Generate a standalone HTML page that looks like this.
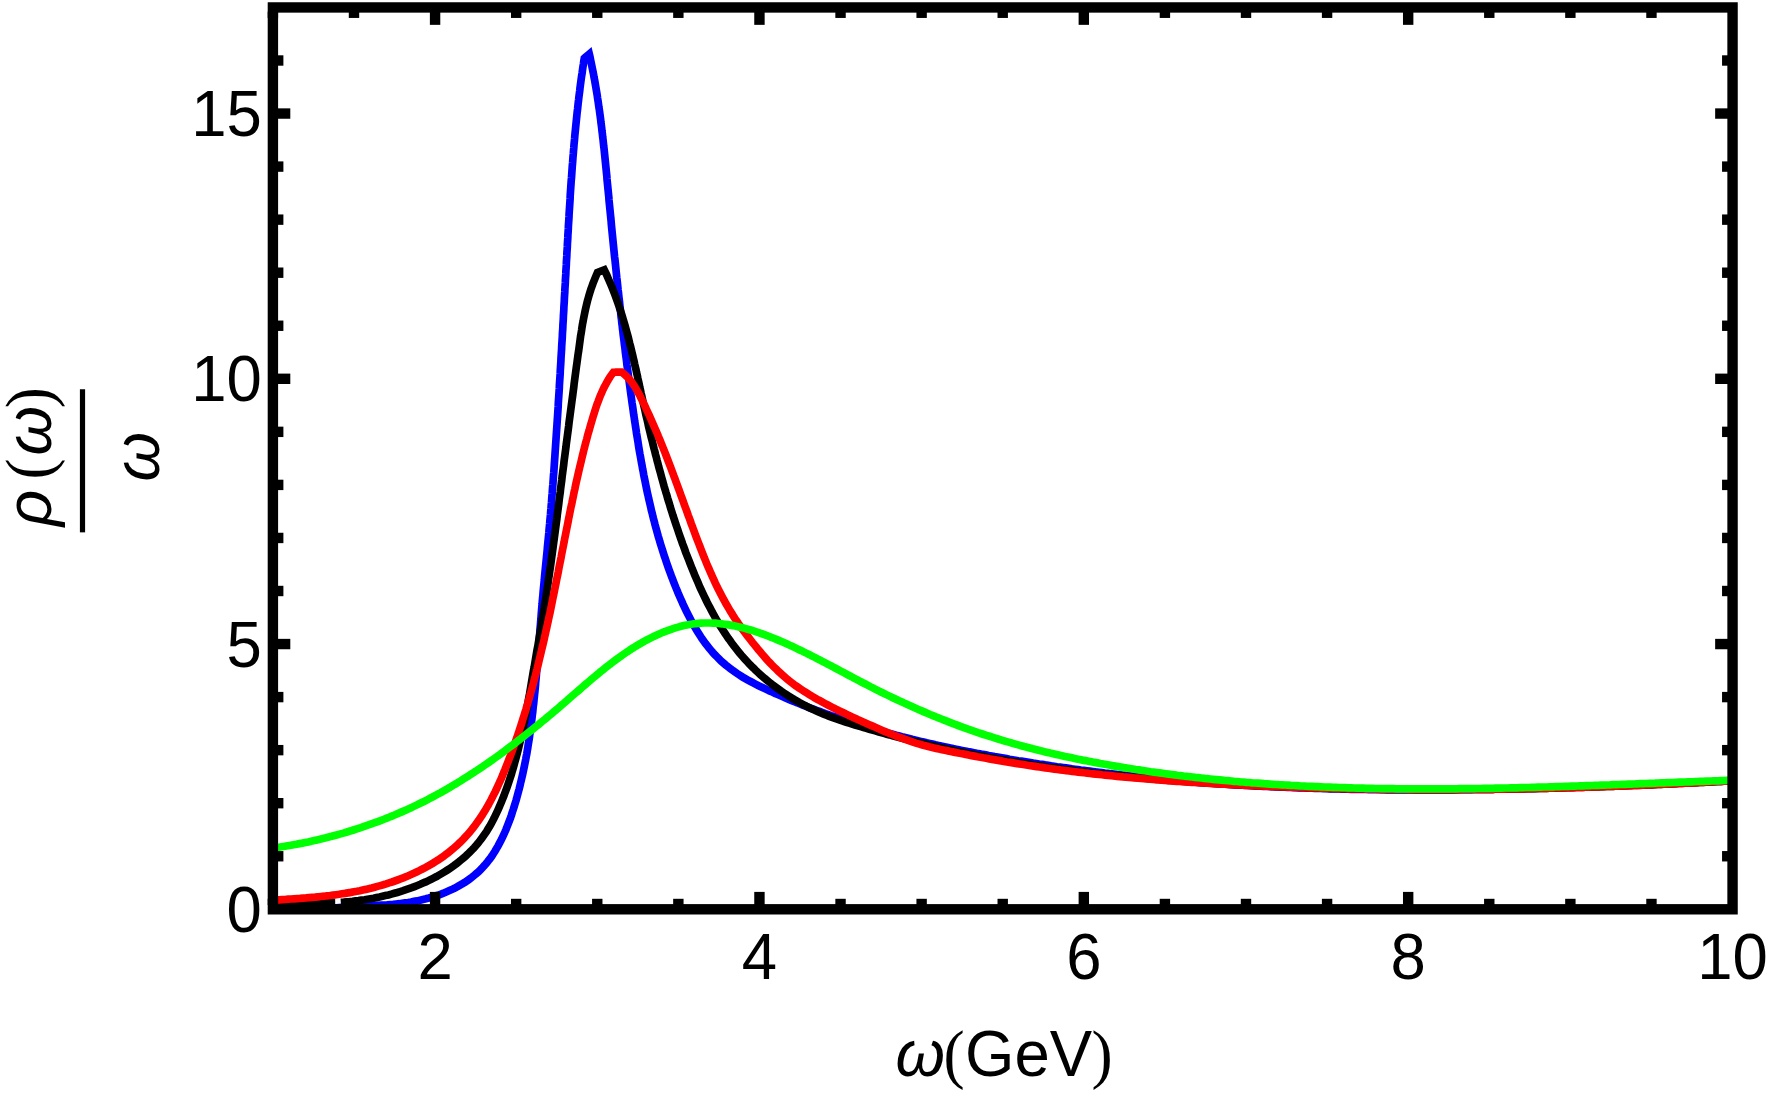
<!DOCTYPE html>
<html><head><meta charset="utf-8"><title>Spectral function plot</title>
<style>
html,body{margin:0;padding:0;background:#fff;}
body{width:1772px;height:1097px;overflow:hidden;}
svg{display:block;}
text{font-family:"Liberation Sans",Arial,sans-serif;}
.it{font-family:"Liberation Serif","Times New Roman",serif;font-style:italic;}
</style></head><body>
<svg width="1772" height="1097" viewBox="0 0 1772 1097">
<rect width="1772" height="1097" fill="#fff"/>

<g fill="none" stroke-width="7.70" stroke-linejoin="miter" stroke-miterlimit="3" stroke-linecap="butt">
<path stroke="#0000ff" d="M273.0,909.5L276.0,909.6 279.1,909.6 282.1,909.6 285.1,909.7 288.2,909.6 291.2,909.6 294.2,909.6 297.2,909.5 300.2,909.4 303.2,909.4 306.2,909.3 309.2,909.1 312.2,909.0 315.2,908.9 318.2,908.8 321.2,908.6 324.2,908.4 327.2,908.3 330.1,908.1 333.1,908.0 336.1,907.8 339.1,907.6 342.1,907.4 345.1,907.2 348.1,907.1 351.0,906.9 354.0,906.7 357.0,906.5 360.0,906.4 363.0,906.2 366.0,906.1 369.0,905.9 372.0,905.7 375.1,905.6 378.1,905.4 381.1,905.2 384.1,905.0 387.1,904.8 390.1,904.5 393.1,904.3 396.1,904.0 399.1,903.7 402.1,903.3 405.1,902.9 408.1,902.5 411.1,902.0 414.1,901.4 417.1,900.9 420.1,900.2 423.0,899.5 426.0,898.8 428.9,898.0 431.9,897.1 434.8,896.2 437.7,895.3 440.5,894.3 443.4,893.2 446.2,892.0 448.9,890.8 451.7,889.6 454.4,888.3 457.0,886.9 459.6,885.4 462.2,883.9 464.7,882.4 467.2,880.7 469.6,879.0 471.9,877.3 474.2,875.4 476.4,873.5 478.6,871.6 480.7,869.5 482.7,867.4 484.7,865.2 486.6,863.0 488.4,860.7 490.2,858.4 491.9,856.0 493.5,853.5 495.1,851.0 496.6,848.4 498.1,845.8 499.5,843.2 500.9,840.5 502.2,837.8 503.5,835.1 504.8,832.3 506.0,829.5 507.1,826.7 508.2,823.8 509.3,821.0 510.4,818.1 511.4,815.2 512.3,812.3 513.3,809.4 514.2,806.5 515.1,803.5 516.0,800.6 516.8,797.7 517.6,794.8 518.4,791.8 519.2,788.9 519.9,786.0 520.6,783.0 521.3,780.1 522.0,777.2 522.7,774.2 523.3,771.3 523.9,768.4 524.5,765.4 525.1,762.5 525.7,759.5 526.2,756.6 526.8,753.7 527.3,750.7 527.8,747.7 528.2,744.8 528.7,741.8 529.2,738.9 529.6,735.9 530.0,733.0 530.4,730.0 530.8,727.0 531.2,724.1 531.6,721.1 532.0,718.1 532.3,715.1 532.7,712.2 533.0,709.2 533.3,706.2 533.7,703.2 534.0,700.2 534.3,697.2 534.6,694.2 534.9,691.3 535.2,688.3 535.5,685.3 535.7,682.3 536.0,679.3 536.3,676.3 536.5,673.3 536.8,670.3 537.0,667.3 537.3,664.3 537.5,661.3 537.8,658.3 538.0,655.3 538.3,652.2 538.5,649.2 538.7,646.2 539.0,643.2 539.2,640.2 539.4,637.2 539.7,634.2 539.9,631.2 540.1,628.2 540.4,625.2 540.6,622.2 540.9,619.2 541.1,616.2 541.3,613.2 541.6,610.2 541.8,607.2 542.1,604.2 542.3,601.2 542.6,598.2 542.9,595.2 543.1,592.2 543.4,589.2 543.7,586.2 544.0,583.2 544.3,580.2 544.5,577.2 544.8,574.2 545.1,571.2 545.4,568.2 545.7,565.2 546.0,562.2 546.3,559.2 546.6,556.2 546.9,553.2 547.2,550.2 547.4,547.3 547.7,544.3 548.0,541.3 548.3,538.3 548.6,535.3 548.9,532.3 549.1,529.3 549.4,526.3 549.7,523.3 549.9,520.3 550.2,517.3 550.5,514.3 550.7,511.3 551.0,508.3 551.2,505.3 551.5,502.3 551.7,499.3 551.9,496.3 552.2,493.3 552.4,490.3 552.6,487.3 552.9,484.3 553.1,481.3 553.3,478.3 553.5,475.3 553.8,472.3 554.0,469.3 554.2,466.3 554.4,463.3 554.6,460.3 554.8,457.3 555.0,454.3 555.2,451.3 555.4,448.3 555.6,445.3 555.8,442.3 556.0,439.3 556.2,436.2 556.4,433.2 556.6,430.2 556.8,427.2 557.0,424.2 557.2,421.2 557.4,418.2 557.6,415.2 557.8,412.2 558.0,409.2 558.2,406.2 558.3,403.2 558.5,400.2 558.7,397.2 558.9,394.2 559.1,391.2 559.3,388.2 559.4,385.2 559.6,382.2 559.8,379.2 560.0,376.2 560.2,373.2 560.3,370.2 560.5,367.2 560.7,364.1 560.9,361.1 561.0,358.1 561.2,355.1 561.4,352.1 561.6,349.1 561.7,346.1 561.9,343.1 562.1,340.1 562.3,337.1 562.4,334.1 562.6,331.1 562.8,328.1 562.9,325.1 563.1,322.1 563.3,319.1 563.4,316.1 563.6,313.1 563.8,310.1 563.9,307.1 564.1,304.1 564.3,301.1 564.4,298.1 564.6,295.1 564.8,292.0 564.9,289.0 565.1,286.0 565.3,283.0 565.4,280.0 565.6,277.0 565.8,274.0 565.9,271.0 566.1,268.0 566.3,265.0 566.4,262.0 566.6,259.0 566.8,256.0 566.9,253.0 567.1,250.0 567.3,247.0 567.4,244.0 567.6,240.9 567.8,237.9 567.9,234.9 568.1,231.9 568.3,228.9 568.4,225.9 568.6,222.9 568.8,219.9 569.0,216.9 569.1,213.9 569.3,210.9 569.5,207.9 569.7,204.9 569.9,201.9 570.1,198.9 570.2,195.8 570.4,192.8 570.6,189.8 570.8,186.8 571.0,183.8 571.2,180.8 571.5,177.8 571.7,174.8 571.9,171.8 572.1,168.8 572.3,165.8 572.6,162.8 572.8,159.8 573.0,156.8 573.3,153.8 573.5,150.8 573.8,147.8 574.0,144.8 574.3,141.8 574.6,138.8 574.8,135.8 575.1,132.8 575.4,129.8 575.7,126.8 576.0,123.8 576.3,120.8 576.6,117.8 576.9,114.9 577.2,111.9 577.6,108.9 577.9,105.9 578.2,102.9 578.6,99.9 578.9,96.9 579.3,93.9 579.7,91.0 580.0,88.0 580.4,85.0 580.8,82.0 581.2,79.0 581.6,76.1 582.1,73.1 582.5,70.1 582.9,67.1 583.4,64.1 583.8,61.2 584.3,58.2 585.0,57.6 585.7,57.0 586.4,56.4 587.2,55.8 587.9,55.2 588.6,54.6 589.3,54.0 590.0,56.9 590.6,59.9 591.2,62.8 591.8,65.8 592.4,68.7 593.0,71.6 593.6,74.6 594.1,77.6 594.7,80.5 595.2,83.5 595.7,86.4 596.2,89.4 596.7,92.4 597.2,95.3 597.6,98.3 598.1,101.3 598.5,104.2 598.9,107.2 599.4,110.2 599.8,113.2 600.2,116.2 600.6,119.2 600.9,122.1 601.3,125.1 601.7,128.1 602.0,131.1 602.4,134.1 602.7,137.1 603.1,140.1 603.4,143.1 603.7,146.1 604.1,149.1 604.4,152.1 604.7,155.1 605.0,158.1 605.3,161.1 605.6,164.1 605.9,167.1 606.2,170.1 606.5,173.1 606.8,176.1 607.0,179.1 607.3,182.1 607.6,185.1 607.9,188.1 608.2,191.1 608.5,194.1 608.8,197.1 609.0,200.1 609.3,203.1 609.6,206.1 609.9,209.1 610.2,212.1 610.5,215.1 610.8,218.0 611.1,221.0 611.3,224.0 611.6,227.0 611.9,230.0 612.2,233.0 612.5,236.0 612.8,239.0 613.1,242.0 613.4,245.0 613.7,248.0 614.0,251.0 614.3,254.0 614.6,257.0 615.0,260.0 615.3,263.0 615.6,265.9 615.9,268.9 616.2,271.9 616.5,274.9 616.8,277.9 617.2,280.9 617.5,283.9 617.8,286.9 618.1,289.9 618.5,292.9 618.8,295.8 619.1,298.8 619.5,301.8 619.8,304.8 620.1,307.8 620.5,310.8 620.8,313.8 621.1,316.8 621.5,319.7 621.8,322.7 622.2,325.7 622.5,328.7 622.9,331.7 623.2,334.7 623.6,337.7 624.0,340.6 624.3,343.6 624.7,346.6 625.1,349.6 625.4,352.6 625.8,355.6 626.2,358.5 626.6,361.5 626.9,364.5 627.3,367.5 627.7,370.5 628.1,373.5 628.5,376.5 628.9,379.4 629.3,382.4 629.7,385.4 630.1,388.4 630.5,391.4 630.9,394.4 631.3,397.3 631.7,400.3 632.1,403.3 632.6,406.3 633.0,409.3 633.4,412.3 633.8,415.2 634.3,418.2 634.7,421.2 635.2,424.2 635.6,427.2 636.1,430.1 636.5,433.1 637.0,436.1 637.5,439.1 638.0,442.0 638.4,445.0 638.9,448.0 639.4,451.0 639.9,453.9 640.5,456.9 641.0,459.9 641.5,462.8 642.1,465.8 642.6,468.8 643.2,471.7 643.7,474.7 644.3,477.6 644.9,480.6 645.5,483.5 646.1,486.5 646.7,489.4 647.3,492.4 648.0,495.3 648.6,498.2 649.3,501.2 650.0,504.1 650.7,507.0 651.3,510.0 652.1,512.9 652.8,515.8 653.5,518.7 654.3,521.6 655.0,524.5 655.8,527.4 656.6,530.3 657.4,533.2 658.2,536.1 659.1,539.0 659.9,541.9 660.8,544.8 661.7,547.6 662.6,550.5 663.5,553.4 664.4,556.2 665.4,559.1 666.3,561.9 667.3,564.8 668.3,567.6 669.3,570.5 670.4,573.3 671.4,576.1 672.5,578.9 673.6,581.8 674.7,584.6 675.8,587.4 677.0,590.2 678.1,593.0 679.3,595.8 680.5,598.5 681.8,601.3 683.0,604.1 684.3,606.8 685.6,609.6 686.9,612.3 688.3,615.0 689.7,617.7 691.1,620.4 692.5,623.1 694.0,625.7 695.5,628.3 697.1,630.9 698.7,633.5 700.3,636.0 701.9,638.5 703.7,641.0 705.4,643.4 707.2,645.7 709.1,648.1 711.0,650.4 712.9,652.6 714.9,654.8 717.0,656.9 719.1,659.0 721.2,661.1 723.4,663.0 725.7,665.0 728.0,666.8 730.4,668.7 732.8,670.5 735.2,672.2 737.7,673.9 740.2,675.5 742.7,677.1 745.3,678.6 747.9,680.1 750.6,681.5 753.2,682.9 755.9,684.3 758.6,685.7 761.3,687.0 764.1,688.3 766.8,689.6 769.6,690.9 772.3,692.1 775.1,693.4 777.8,694.6 780.6,695.8 783.4,697.0 786.1,698.2 788.9,699.4 791.7,700.6 794.5,701.7 797.3,702.8 800.1,704.0 802.9,705.1 805.7,706.2 808.5,707.3 811.3,708.4 814.1,709.4 817.0,710.5 819.8,711.5 822.6,712.5 825.4,713.6 828.3,714.6 831.1,715.6 834.0,716.5 836.8,717.5 839.7,718.5 842.5,719.4 845.4,720.4 848.3,721.3 851.1,722.2 854.0,723.1 856.9,724.0 859.7,724.9 862.6,725.8 865.5,726.7 868.4,727.5 871.3,728.4 874.2,729.2 877.1,730.0 880.0,730.9 882.9,731.7 885.8,732.5 888.7,733.3 891.6,734.0 894.5,734.8 897.4,735.6 900.3,736.3 903.2,737.1 906.1,737.8 909.1,738.5 912.0,739.3 914.9,740.0 917.9,740.7 920.8,741.4 923.7,742.1 926.7,742.8 929.6,743.4 932.5,744.1 935.5,744.8 938.4,745.4 941.4,746.1 944.3,746.7 947.2,747.3 950.2,747.9 953.1,748.6 956.1,749.2 959.1,749.8 962.0,750.4 965.0,751.0 967.9,751.6 970.9,752.1 973.8,752.7 976.8,753.3 979.8,753.8 982.7,754.4 985.7,754.9 988.7,755.5 991.6,756.0 994.6,756.6 997.6,757.1 1000.5,757.6 1003.5,758.1 1006.5,758.6 1009.4,759.2 1012.4,759.7 1015.4,760.2 1018.3,760.7 1021.3,761.1 1024.3,761.6 1027.3,762.1 1030.2,762.6 1033.2,763.1 1036.2,763.5 1039.2,764.0 1042.1,764.4 1045.1,764.9 1048.1,765.3 1051.1,765.8 1054.0,766.2 1057.0,766.7 1060.0,767.1 1063.0,767.5 1066.0,767.9 1068.9,768.3 1071.9,768.8 1074.9,769.2 1077.9,769.6 1080.9,770.0 1083.8,770.3 1086.8,770.7 1089.8,771.1 1092.8,771.5 1095.8,771.9 1098.8,772.2 1101.8,772.6 1104.7,773.0 1107.7,773.3 1110.7,773.7 1113.7,774.0 1116.7,774.4 1119.7,774.7 1122.7,775.0 1125.7,775.4 1128.7,775.7 1131.6,776.0 1134.6,776.3 1137.6,776.7 1140.6,777.0 1143.6,777.3 1146.6,777.6 1149.6,777.9 1152.6,778.2 1155.6,778.4 1158.6,778.7 1161.6,779.0 1164.6,779.3 1167.6,779.6 1170.6,779.8 1173.5,780.1 1176.5,780.4 1179.5,780.6 1182.5,780.9 1185.5,781.1 1188.5,781.4 1191.5,781.6 1194.5,781.8 1197.5,782.1 1200.5,782.3 1203.5,782.5 1206.5,782.7 1209.5,783.0 1212.5,783.2 1215.5,783.4 1218.5,783.6 1221.5,783.8 1224.5,784.0 1227.5,784.2 1230.5,784.4 1233.5,784.6 1236.5,784.8 1239.5,784.9 1242.5,785.1 1245.5,785.3 1248.5,785.5 1251.5,785.6 1254.6,785.8 1257.6,785.9 1260.6,786.1 1263.6,786.3 1266.6,786.4 1269.6,786.5 1272.6,786.7 1275.6,786.8 1278.6,787.0 1281.6,787.1 1284.6,787.2 1287.6,787.3 1290.6,787.5 1293.6,787.6 1296.6,787.7 1299.6,787.8 1302.6,787.9 1305.6,788.0 1308.7,788.1 1311.7,788.2 1314.7,788.3 1317.7,788.4 1320.7,788.5 1323.7,788.6 1326.7,788.7 1329.7,788.8 1332.7,788.9 1335.7,788.9 1338.7,789.0 1341.8,789.1 1344.8,789.1 1347.8,789.2 1350.8,789.3 1353.8,789.3 1356.8,789.4 1359.8,789.4 1362.8,789.5 1365.8,789.5 1368.8,789.6 1371.9,789.6 1374.9,789.6 1377.9,789.7 1380.9,789.7 1383.9,789.7 1386.9,789.8 1389.9,789.8 1392.9,789.8 1395.9,789.8 1399.0,789.9 1402.0,789.9 1405.0,789.9 1408.0,789.9 1411.0,789.9 1414.0,789.9 1417.0,789.9 1420.0,789.9 1423.1,789.9 1426.1,789.9 1429.1,789.9 1432.1,789.9 1435.1,789.9 1438.1,789.9 1441.1,789.9 1444.1,789.8 1447.2,789.8 1450.2,789.8 1453.2,789.8 1456.2,789.7 1459.2,789.7 1462.2,789.7 1465.2,789.7 1468.2,789.6 1471.3,789.6 1474.3,789.5 1477.3,789.5 1480.3,789.5 1483.3,789.4 1486.3,789.4 1489.3,789.3 1492.3,789.3 1495.4,789.2 1498.4,789.2 1501.4,789.1 1504.4,789.0 1507.4,789.0 1510.4,788.9 1513.4,788.9 1516.4,788.8 1519.5,788.7 1522.5,788.6 1525.5,788.6 1528.5,788.5 1531.5,788.4 1534.5,788.4 1537.5,788.3 1540.5,788.2 1543.6,788.1 1546.6,788.0 1549.6,788.0 1552.6,787.9 1555.6,787.8 1558.6,787.7 1561.6,787.6 1564.6,787.5 1567.6,787.4 1570.7,787.3 1573.7,787.2 1576.7,787.1 1579.7,787.0 1582.7,786.9 1585.7,786.8 1588.7,786.7 1591.7,786.6 1594.7,786.5 1597.7,786.4 1600.8,786.3 1603.8,786.2 1606.8,786.1 1609.8,786.0 1612.8,785.9 1615.8,785.8 1618.8,785.6 1621.8,785.5 1624.8,785.4 1627.8,785.3 1630.8,785.2 1633.9,785.1 1636.9,784.9 1639.9,784.8 1642.9,784.7 1645.9,784.6 1648.9,784.4 1651.9,784.3 1654.9,784.2 1657.9,784.1 1660.9,783.9 1663.9,783.8 1666.9,783.7 1669.9,783.6 1672.9,783.4 1675.9,783.3 1679.0,783.2 1682.0,783.0 1685.0,782.9 1688.0,782.8 1691.0,782.6 1694.0,782.5 1697.0,782.4 1700.0,782.2 1703.0,782.1 1706.0,782.0 1709.0,781.8 1712.0,781.7 1715.0,781.5 1718.0,781.4 1721.0,781.3 1724.0,781.1 1727.0,781.0 1730.0,780.8 1733.0,780.7"/>
<path stroke="#000000" d="M340.8,902.3L343.7,902.1 346.7,901.8 349.6,901.6 352.6,901.3 355.6,900.9 358.6,900.6 361.5,900.1 364.5,899.7 367.5,899.2 370.5,898.7 373.5,898.2 376.5,897.6 379.5,897.0 382.5,896.3 385.4,895.6 388.4,894.9 391.4,894.1 394.3,893.3 397.3,892.5 400.2,891.6 403.1,890.7 406.0,889.7 408.9,888.7 411.8,887.7 414.6,886.6 417.4,885.5 420.3,884.3 423.0,883.1 425.8,881.9 428.5,880.6 431.2,879.3 433.9,877.9 436.6,876.5 439.2,875.0 441.8,873.5 444.3,872.0 446.9,870.4 449.4,868.8 451.8,867.1 454.2,865.4 456.6,863.6 458.9,861.8 461.2,859.9 463.5,858.0 465.7,856.1 467.8,854.1 469.9,852.0 472.0,849.9 474.0,847.8 476.0,845.6 477.9,843.3 479.7,841.0 481.5,838.7 483.2,836.3 484.9,833.8 486.6,831.4 488.1,828.8 489.7,826.3 491.2,823.6 492.6,821.0 494.0,818.3 495.3,815.6 496.6,812.9 497.9,810.1 499.1,807.4 500.3,804.6 501.5,801.8 502.6,798.9 503.8,796.1 504.8,793.3 505.9,790.4 506.9,787.6 507.9,784.7 508.9,781.8 509.8,779.0 510.8,776.1 511.7,773.2 512.5,770.3 513.4,767.4 514.2,764.5 515.0,761.6 515.8,758.7 516.6,755.8 517.4,752.9 518.1,750.0 518.8,747.1 519.5,744.2 520.2,741.3 520.9,738.3 521.5,735.4 522.1,732.5 522.8,729.6 523.4,726.6 524.0,723.7 524.6,720.8 525.1,717.8 525.7,714.9 526.3,711.9 526.8,709.0 527.4,706.0 527.9,703.1 528.4,700.1 528.9,697.2 529.5,694.2 530.0,691.3 530.5,688.3 531.0,685.4 531.5,682.4 532.0,679.4 532.5,676.5 533.0,673.5 533.5,670.5 534.1,667.6 534.6,664.6 535.1,661.6 535.6,658.7 536.1,655.7 536.6,652.7 537.1,649.8 537.7,646.8 538.2,643.8 538.7,640.8 539.2,637.9 539.7,634.9 540.2,631.9 540.7,628.9 541.2,625.9 541.7,623.0 542.2,620.0 542.7,617.0 543.2,614.0 543.7,611.0 544.2,608.1 544.6,605.1 545.1,602.1 545.6,599.1 546.1,596.1 546.5,593.2 547.0,590.2 547.4,587.2 547.9,584.2 548.3,581.2 548.7,578.2 549.2,575.3 549.6,572.3 550.0,569.3 550.5,566.3 550.9,563.3 551.3,560.3 551.7,557.3 552.1,554.4 552.5,551.4 552.9,548.4 553.3,545.4 553.7,542.4 554.1,539.4 554.5,536.5 554.9,533.5 555.3,530.5 555.7,527.5 556.1,524.5 556.5,521.5 556.9,518.5 557.2,515.6 557.6,512.6 558.0,509.6 558.4,506.6 558.8,503.6 559.1,500.6 559.5,497.6 559.9,494.6 560.3,491.7 560.6,488.7 561.0,485.7 561.4,482.7 561.8,479.7 562.1,476.7 562.5,473.7 562.9,470.8 563.3,467.8 563.7,464.8 564.0,461.8 564.4,458.8 564.8,455.8 565.2,452.8 565.6,449.8 566.0,446.9 566.3,443.9 566.7,440.9 567.1,437.9 567.5,434.9 567.9,431.9 568.3,428.9 568.7,425.9 569.0,423.0 569.4,420.0 569.8,417.0 570.2,414.0 570.6,411.0 571.0,408.0 571.4,405.0 571.8,402.0 572.2,399.0 572.6,396.1 573.0,393.1 573.4,390.1 573.8,387.1 574.1,384.1 574.5,381.1 574.9,378.1 575.3,375.1 575.7,372.1 576.1,369.1 576.5,366.1 576.9,363.2 577.3,360.2 577.7,357.2 578.1,354.2 578.6,351.2 579.0,348.2 579.4,345.2 579.8,342.2 580.2,339.2 580.6,336.2 581.1,333.3 581.6,330.3 582.0,327.3 582.5,324.3 583.1,321.4 583.6,318.4 584.2,315.5 584.8,312.5 585.4,309.6 586.1,306.7 586.8,303.7 587.5,300.8 588.3,298.0 589.1,295.1 590.0,292.2 590.9,289.3 591.9,286.5 592.9,283.7 594.0,280.9 595.1,278.1 596.3,275.3 597.5,272.5 598.5,272.1 599.4,271.7 600.4,271.3 601.3,271.0 602.3,270.6 603.2,270.2 604.2,269.8 605.5,272.5 606.8,275.2 608.0,278.0 609.2,280.7 610.4,283.5 611.6,286.3 612.7,289.0 613.8,291.8 614.9,294.6 615.9,297.4 616.9,300.2 617.9,303.1 618.9,305.9 619.8,308.7 620.8,311.6 621.7,314.5 622.6,317.3 623.4,320.2 624.3,323.1 625.1,325.9 625.9,328.8 626.7,331.7 627.5,334.6 628.3,337.5 629.0,340.4 629.7,343.4 630.5,346.3 631.2,349.2 631.9,352.1 632.6,355.0 633.3,358.0 634.0,360.9 634.6,363.8 635.3,366.8 636.0,369.7 636.6,372.7 637.3,375.6 637.9,378.6 638.6,381.5 639.2,384.4 639.8,387.4 640.5,390.3 641.1,393.3 641.8,396.2 642.4,399.2 643.1,402.1 643.7,405.0 644.4,408.0 645.1,410.9 645.7,413.8 646.4,416.8 647.1,419.7 647.8,422.6 648.4,425.6 649.1,428.5 649.8,431.4 650.5,434.3 651.2,437.2 652.0,440.2 652.7,443.1 653.4,446.0 654.1,448.9 654.9,451.8 655.6,454.7 656.4,457.6 657.1,460.5 657.9,463.4 658.6,466.3 659.4,469.2 660.2,472.1 661.0,475.0 661.8,477.9 662.6,480.8 663.4,483.7 664.2,486.6 665.1,489.5 665.9,492.3 666.8,495.2 667.6,498.1 668.5,501.0 669.4,503.8 670.2,506.7 671.1,509.6 672.0,512.4 672.9,515.3 673.9,518.2 674.8,521.0 675.7,523.9 676.7,526.7 677.7,529.6 678.6,532.4 679.6,535.3 680.6,538.1 681.6,540.9 682.6,543.8 683.7,546.6 684.7,549.4 685.7,552.3 686.8,555.1 687.9,557.9 689.0,560.7 690.1,563.5 691.2,566.3 692.3,569.1 693.5,571.9 694.6,574.7 695.8,577.5 697.0,580.3 698.2,583.1 699.4,585.9 700.6,588.6 701.9,591.4 703.2,594.1 704.5,596.8 705.8,599.5 707.1,602.2 708.5,604.9 709.9,607.6 711.3,610.3 712.7,612.9 714.2,615.5 715.6,618.2 717.1,620.8 718.7,623.3 720.2,625.9 721.8,628.4 723.4,631.0 725.1,633.5 726.7,635.9 728.4,638.4 730.2,640.8 731.9,643.3 733.7,645.6 735.5,648.0 737.4,650.4 739.3,652.7 741.2,655.0 743.2,657.2 745.1,659.5 747.2,661.7 749.2,663.8 751.3,666.0 753.5,668.1 755.6,670.2 757.8,672.3 760.0,674.3 762.3,676.3 764.6,678.3 766.9,680.2 769.2,682.1 771.6,684.0 774.0,685.8 776.4,687.6 778.8,689.4 781.3,691.2 783.8,692.9 786.3,694.5 788.9,696.2 791.4,697.8 794.0,699.4 796.6,700.9 799.2,702.4 801.9,703.8 804.5,705.3 807.2,706.6 809.9,708.0 812.7,709.3 815.4,710.5 818.1,711.8 820.9,713.0 823.7,714.1 826.5,715.2 829.3,716.3 832.1,717.4 834.9,718.4 837.8,719.4 840.6,720.4 843.5,721.3 846.4,722.3 849.2,723.2 852.1,724.1 855.0,725.0 857.9,725.8 860.7,726.7 863.6,727.6 866.5,728.4 869.4,729.3 872.3,730.1 875.2,730.9 878.1,731.7 881.0,732.6 883.9,733.4 886.8,734.2 889.7,734.9 892.6,735.7 895.5,736.5 898.4,737.3 901.3,738.0 904.2,738.8 907.1,739.5 910.0,740.3 913.0,741.0 915.9,741.7 918.8,742.4 921.7,743.1 924.6,743.8 927.6,744.5 930.5,745.2 933.4,745.9 936.3,746.5 939.3,747.2 942.2,747.9 945.1,748.5 948.1,749.2 951.0,749.8 953.9,750.4 956.9,751.0 959.8,751.7 962.7,752.3 965.7,752.9 968.6,753.5 971.6,754.1 974.5,754.6 977.5,755.2 980.4,755.8 983.3,756.3 986.3,756.9 989.2,757.5 992.2,758.0 995.2,758.5 998.1,759.1 1001.1,759.6 1004.0,760.1 1007.0,760.6 1009.9,761.1 1012.9,761.6 1015.9,762.1 1018.8,762.6 1021.8,763.1 1024.7,763.6 1027.7,764.0 1030.7,764.5 1033.7,765.0 1036.6,765.4 1039.6,765.9 1042.6,766.3 1045.5,766.7 1048.5,767.2 1051.5,767.6 1054.5,768.0 1057.4,768.4 1060.4,768.8 1063.4,769.2 1066.4,769.6 1069.3,770.0 1072.3,770.4 1075.3,770.8 1078.3,771.2 1081.3,771.5 1084.2,771.9 1087.2,772.3 1090.2,772.6 1093.2,773.0 1096.2,773.3 1099.2,773.7 1102.2,774.0 1105.2,774.3 1108.1,774.7 1111.1,775.0 1114.1,775.3 1117.1,775.6 1120.1,775.9 1123.1,776.2 1126.1,776.5 1129.1,776.8 1132.1,777.1 1135.1,777.4 1138.1,777.7 1141.1,778.0 1144.1,778.2 1147.1,778.5 1150.1,778.8 1153.1,779.0 1156.1,779.3 1159.1,779.5 1162.1,779.8 1165.1,780.0 1168.1,780.3 1171.1,780.5 1174.1,780.7 1177.1,780.9 1180.1,781.2 1183.1,781.4 1186.1,781.6 1189.1,781.8 1192.1,782.0 1195.1,782.2 1198.1,782.4 1201.1,782.6 1204.1,782.8 1207.1,783.0 1210.1,783.2 1213.1,783.4 1216.1,783.6 1219.1,783.7 1222.1,783.9 1225.1,784.1 1228.1,784.3 1231.2,784.4 1234.2,784.6 1237.2,784.7 1240.2,784.9 1243.2,785.0 1246.2,785.2 1249.2,785.3 1252.2,785.5 1255.2,785.6 1258.2,785.8 1261.2,785.9 1264.2,786.0 1267.2,786.1 1270.3,786.3 1273.3,786.4 1276.3,786.5 1279.3,786.6 1282.3,786.8 1285.3,786.9 1288.3,787.0 1291.3,787.1 1294.3,787.2 1297.3,787.3 1300.3,787.4 1303.3,787.5 1306.3,787.6 1309.3,787.7 1312.4,787.8 1315.4,787.9 1318.4,788.0 1321.4,788.0 1324.4,788.1 1327.4,788.2 1330.4,788.3 1333.4,788.4 1336.4,788.4 1339.4,788.5 1342.4,788.6 1345.4,788.6 1348.4,788.7 1351.4,788.8 1354.4,788.8 1357.4,788.9 1360.4,788.9 1363.4,789.0 1366.5,789.0 1369.5,789.1 1372.5,789.1 1375.5,789.2 1378.5,789.2 1381.5,789.3 1384.5,789.3 1387.5,789.3 1390.5,789.4 1393.5,789.4 1396.5,789.4 1399.5,789.4 1402.5,789.5 1405.5,789.5 1408.5,789.5 1411.5,789.5 1414.5,789.6 1417.5,789.6 1420.5,789.6 1423.5,789.6 1426.5,789.6 1429.5,789.6 1432.5,789.6 1435.6,789.6 1438.6,789.6 1441.6,789.6 1444.6,789.6 1447.6,789.6 1450.6,789.6 1453.6,789.6 1456.6,789.6 1459.6,789.5 1462.6,789.5 1465.6,789.5 1468.6,789.5 1471.6,789.5 1474.6,789.4 1477.6,789.4 1480.6,789.4 1483.6,789.4 1486.6,789.3 1489.6,789.3 1492.6,789.3 1495.6,789.2 1498.6,789.2 1501.6,789.1 1504.6,789.1 1507.6,789.0 1510.6,789.0 1513.6,789.0 1516.6,788.9 1519.7,788.8 1522.7,788.8 1525.7,788.7 1528.7,788.7 1531.7,788.6 1534.7,788.6 1537.7,788.5 1540.7,788.4 1543.7,788.4 1546.7,788.3 1549.7,788.2 1552.7,788.1 1555.7,788.1 1558.7,788.0 1561.7,787.9 1564.7,787.8 1567.7,787.7 1570.7,787.7 1573.7,787.6 1576.7,787.5 1579.7,787.4 1582.7,787.3 1585.7,787.2 1588.7,787.1 1591.7,787.0 1594.7,786.9 1597.7,786.8 1600.7,786.7 1603.8,786.6 1606.8,786.5 1609.8,786.4 1612.8,786.3 1615.8,786.2 1618.8,786.1 1621.8,786.0 1624.8,785.9 1627.8,785.7 1630.8,785.6 1633.8,785.5 1636.8,785.4 1639.8,785.3 1642.8,785.1 1645.8,785.0 1648.8,784.9 1651.8,784.8 1654.8,784.6 1657.8,784.5 1660.8,784.4 1663.8,784.2 1666.9,784.1 1669.9,783.9 1672.9,783.8 1675.9,783.7 1678.9,783.5 1681.9,783.4 1684.9,783.2 1687.9,783.1 1690.9,782.9 1693.9,782.8 1696.9,782.6 1699.9,782.5 1702.9,782.3 1705.9,782.2 1708.9,782.0 1711.9,781.9 1715.0,781.7 1718.0,781.5 1721.0,781.4 1724.0,781.2 1727.0,781.0 1730.0,780.9 1733.0,780.7"/>
<path stroke="#000" d="M273,902.7 L300,902.6 L335.2,902.3"/>
<path stroke="#ff0000" d="M273.0,900.3L276.0,900.1 279.0,899.9 282.0,899.7 285.0,899.5 288.1,899.2 291.1,899.0 294.1,898.8 297.1,898.6 300.1,898.4 303.1,898.1 306.1,897.9 309.1,897.6 312.1,897.3 315.1,897.1 318.1,896.8 321.1,896.5 324.1,896.2 327.1,895.8 330.1,895.5 333.1,895.1 336.1,894.7 339.1,894.3 342.1,893.8 345.0,893.4 348.0,892.9 351.0,892.4 354.0,891.8 356.9,891.3 359.9,890.7 362.8,890.0 365.8,889.4 368.7,888.7 371.7,888.0 374.6,887.2 377.5,886.4 380.4,885.6 383.3,884.8 386.2,883.9 389.1,882.9 392.0,882.0 394.8,881.0 397.6,880.0 400.5,878.9 403.3,877.8 406.1,876.7 408.9,875.5 411.6,874.3 414.4,873.0 417.1,871.7 419.8,870.4 422.5,869.0 425.2,867.6 427.9,866.1 430.5,864.6 433.1,863.1 435.6,861.5 438.2,859.9 440.7,858.2 443.2,856.5 445.6,854.7 448.0,852.9 450.3,851.0 452.7,849.1 454.9,847.2 457.2,845.2 459.3,843.1 461.5,841.0 463.6,838.9 465.6,836.7 467.6,834.5 469.6,832.2 471.5,829.9 473.3,827.6 475.1,825.2 476.9,822.8 478.7,820.3 480.3,817.9 482.0,815.4 483.6,812.8 485.2,810.3 486.7,807.7 488.2,805.1 489.6,802.5 491.1,799.8 492.5,797.1 493.8,794.4 495.2,791.7 496.5,789.0 497.8,786.2 499.0,783.5 500.3,780.7 501.5,777.9 502.7,775.1 503.8,772.3 505.0,769.5 506.1,766.7 507.2,763.9 508.3,761.1 509.4,758.2 510.5,755.4 511.5,752.6 512.6,749.7 513.6,746.9 514.6,744.0 515.6,741.2 516.6,738.3 517.6,735.5 518.6,732.6 519.5,729.7 520.5,726.9 521.4,724.0 522.3,721.1 523.2,718.2 524.1,715.4 525.0,712.5 525.9,709.6 526.7,706.7 527.6,703.8 528.4,700.9 529.3,698.0 530.1,695.1 530.9,692.2 531.7,689.3 532.5,686.4 533.3,683.5 534.0,680.6 534.8,677.7 535.6,674.8 536.3,671.8 537.1,668.9 537.8,666.0 538.5,663.1 539.2,660.2 539.9,657.2 540.6,654.3 541.3,651.4 542.0,648.4 542.7,645.5 543.4,642.6 544.1,639.6 544.7,636.7 545.4,633.7 546.0,630.8 546.7,627.9 547.3,624.9 548.0,622.0 548.6,619.0 549.2,616.1 549.9,613.1 550.5,610.2 551.1,607.2 551.7,604.3 552.3,601.3 552.9,598.3 553.5,595.4 554.1,592.4 554.7,589.5 555.3,586.5 555.9,583.6 556.5,580.6 557.1,577.6 557.7,574.7 558.3,571.7 558.8,568.8 559.4,565.8 560.0,562.8 560.6,559.9 561.2,556.9 561.7,553.9 562.3,551.0 562.9,548.0 563.5,545.0 564.1,542.1 564.6,539.1 565.2,536.2 565.8,533.2 566.4,530.2 567.0,527.3 567.6,524.3 568.2,521.3 568.7,518.4 569.3,515.4 569.9,512.4 570.5,509.5 571.1,506.5 571.8,503.6 572.4,500.6 573.0,497.7 573.6,494.7 574.2,491.7 574.9,488.8 575.5,485.8 576.1,482.9 576.8,479.9 577.5,477.0 578.1,474.1 578.8,471.1 579.5,468.2 580.2,465.2 580.9,462.3 581.6,459.4 582.3,456.4 583.0,453.5 583.7,450.6 584.5,447.6 585.2,444.7 586.0,441.8 586.8,438.9 587.5,436.0 588.3,433.1 589.2,430.2 590.0,427.3 590.8,424.4 591.7,421.5 592.5,418.6 593.4,415.7 594.3,412.8 595.2,409.9 596.1,407.1 597.1,404.2 598.2,401.4 599.2,398.6 600.3,395.8 601.5,393.1 602.7,390.3 604.0,387.6 605.4,385.0 606.8,382.4 608.3,379.8 609.9,377.2 611.6,374.7 613.4,372.3 614.6,372.3 615.7,372.2 616.9,372.2 618.1,372.1 619.3,372.1 620.4,372.0 621.6,372.0 624.0,373.9 626.2,376.0 628.3,378.1 630.3,380.4 632.1,382.8 633.8,385.2 635.4,387.7 636.9,390.3 638.4,392.9 639.8,395.6 641.1,398.2 642.5,400.9 643.8,403.6 645.1,406.4 646.3,409.1 647.6,411.8 648.9,414.5 650.1,417.2 651.3,420.0 652.5,422.7 653.7,425.5 654.9,428.2 656.1,431.0 657.3,433.7 658.4,436.5 659.6,439.3 660.7,442.0 661.8,444.8 663.0,447.6 664.1,450.4 665.2,453.2 666.3,456.0 667.3,458.7 668.4,461.5 669.5,464.4 670.6,467.2 671.6,470.0 672.7,472.8 673.7,475.6 674.8,478.4 675.8,481.2 676.9,484.1 677.9,486.9 678.9,489.7 680.0,492.5 681.0,495.4 682.0,498.2 683.1,501.0 684.1,503.9 685.1,506.7 686.2,509.6 687.2,512.4 688.2,515.3 689.3,518.1 690.3,520.9 691.3,523.8 692.4,526.6 693.4,529.5 694.5,532.3 695.5,535.2 696.6,538.0 697.7,540.9 698.8,543.7 699.9,546.5 701.0,549.4 702.1,552.2 703.2,555.0 704.3,557.8 705.5,560.6 706.6,563.4 707.8,566.2 709.0,568.9 710.2,571.7 711.4,574.4 712.6,577.2 713.9,579.9 715.1,582.6 716.4,585.3 717.7,588.0 719.1,590.7 720.4,593.3 721.8,596.0 723.2,598.6 724.6,601.2 726.0,603.8 727.5,606.3 729.0,608.9 730.5,611.4 732.1,613.9 733.6,616.4 735.2,618.9 736.9,621.3 738.5,623.7 740.2,626.1 741.9,628.5 743.7,630.9 745.4,633.2 747.2,635.6 749.0,637.9 750.8,640.3 752.6,642.6 754.5,644.9 756.4,647.2 758.2,649.5 760.2,651.8 762.1,654.1 764.0,656.3 766.0,658.6 768.0,660.8 770.1,663.0 772.1,665.1 774.2,667.2 776.4,669.3 778.5,671.4 780.7,673.4 782.9,675.4 785.2,677.4 787.4,679.3 789.8,681.2 792.1,683.0 794.5,684.8 796.9,686.5 799.4,688.2 801.9,689.9 804.4,691.5 806.9,693.1 809.5,694.7 812.1,696.3 814.7,697.8 817.3,699.3 819.9,700.7 822.5,702.2 825.2,703.6 827.9,705.0 830.5,706.4 833.2,707.8 835.9,709.1 838.6,710.5 841.3,711.8 844.1,713.1 846.8,714.4 849.5,715.7 852.2,717.0 855.0,718.2 857.7,719.5 860.5,720.7 863.2,721.9 866.0,723.2 868.7,724.4 871.5,725.6 874.2,726.8 876.9,728.0 879.7,729.2 882.4,730.4 885.2,731.6 887.9,732.7 890.7,733.8 893.5,735.0 896.2,736.1 899.0,737.1 901.8,738.2 904.6,739.2 907.4,740.2 910.2,741.2 913.0,742.2 915.9,743.1 918.7,743.9 921.6,744.8 924.5,745.6 927.4,746.3 930.3,747.1 933.2,747.8 936.2,748.4 939.1,749.1 942.1,749.7 945.0,750.3 948.0,750.9 950.9,751.5 953.9,752.1 956.8,752.7 959.8,753.3 962.7,753.8 965.7,754.4 968.6,755.0 971.6,755.6 974.5,756.1 977.5,756.7 980.4,757.2 983.4,757.8 986.3,758.3 989.3,758.9 992.2,759.4 995.2,759.9 998.1,760.4 1001.1,760.9 1004.0,761.5 1007.0,762.0 1009.9,762.4 1012.9,762.9 1015.8,763.4 1018.8,763.9 1021.7,764.3 1024.7,764.8 1027.7,765.3 1030.6,765.7 1033.6,766.1 1036.6,766.6 1039.5,767.0 1042.5,767.4 1045.5,767.9 1048.4,768.3 1051.4,768.7 1054.4,769.1 1057.4,769.5 1060.3,769.9 1063.3,770.2 1066.3,770.6 1069.3,771.0 1072.2,771.4 1075.2,771.7 1078.2,772.1 1081.2,772.4 1084.2,772.8 1087.2,773.1 1090.1,773.5 1093.1,773.8 1096.1,774.1 1099.1,774.4 1102.1,774.8 1105.1,775.1 1108.1,775.4 1111.0,775.7 1114.0,776.0 1117.0,776.3 1120.0,776.6 1123.0,776.9 1126.0,777.1 1129.0,777.4 1132.0,777.7 1135.0,778.0 1138.0,778.2 1141.0,778.5 1144.0,778.7 1147.0,779.0 1150.0,779.2 1153.0,779.5 1156.0,779.7 1159.0,779.9 1162.0,780.2 1165.0,780.4 1168.0,780.6 1171.0,780.8 1174.0,781.1 1177.0,781.3 1180.0,781.5 1183.0,781.7 1186.0,781.9 1189.0,782.1 1192.0,782.3 1195.0,782.5 1198.0,782.7 1201.0,782.9 1204.0,783.0 1207.0,783.2 1210.0,783.4 1213.0,783.6 1216.0,783.7 1219.0,783.9 1222.0,784.1 1225.0,784.2 1228.0,784.4 1231.0,784.6 1234.0,784.7 1237.0,784.9 1240.0,785.0 1243.0,785.2 1246.1,785.3 1249.1,785.4 1252.1,785.6 1255.1,785.7 1258.1,785.9 1261.1,786.0 1264.1,786.1 1267.1,786.2 1270.1,786.4 1273.1,786.5 1276.1,786.6 1279.1,786.7 1282.1,786.8 1285.1,787.0 1288.1,787.1 1291.1,787.2 1294.1,787.3 1297.1,787.4 1300.2,787.5 1303.2,787.6 1306.2,787.7 1309.2,787.8 1312.2,787.9 1315.2,787.9 1318.2,788.0 1321.2,788.1 1324.2,788.2 1327.2,788.3 1330.2,788.4 1333.2,788.4 1336.2,788.5 1339.2,788.6 1342.2,788.6 1345.2,788.7 1348.2,788.8 1351.3,788.8 1354.3,788.9 1357.3,788.9 1360.3,789.0 1363.3,789.0 1366.3,789.1 1369.3,789.1 1372.3,789.2 1375.3,789.2 1378.3,789.3 1381.3,789.3 1384.3,789.3 1387.3,789.4 1390.3,789.4 1393.3,789.4 1396.3,789.5 1399.4,789.5 1402.4,789.5 1405.4,789.5 1408.4,789.6 1411.4,789.6 1414.4,789.6 1417.4,789.6 1420.4,789.6 1423.4,789.6 1426.4,789.6 1429.4,789.6 1432.4,789.6 1435.4,789.6 1438.4,789.6 1441.4,789.6 1444.5,789.6 1447.5,789.6 1450.5,789.6 1453.5,789.6 1456.5,789.6 1459.5,789.6 1462.5,789.5 1465.5,789.5 1468.5,789.5 1471.5,789.5 1474.5,789.5 1477.5,789.4 1480.5,789.4 1483.5,789.4 1486.5,789.3 1489.5,789.3 1492.6,789.3 1495.6,789.2 1498.6,789.2 1501.6,789.1 1504.6,789.1 1507.6,789.0 1510.6,789.0 1513.6,788.9 1516.6,788.9 1519.6,788.8 1522.6,788.8 1525.6,788.7 1528.6,788.7 1531.6,788.6 1534.6,788.5 1537.7,788.5 1540.7,788.4 1543.7,788.3 1546.7,788.3 1549.7,788.2 1552.7,788.1 1555.7,788.0 1558.7,788.0 1561.7,787.9 1564.7,787.8 1567.7,787.7 1570.7,787.6 1573.7,787.6 1576.7,787.5 1579.7,787.4 1582.7,787.3 1585.7,787.2 1588.8,787.1 1591.8,787.0 1594.8,786.9 1597.8,786.8 1600.8,786.7 1603.8,786.6 1606.8,786.5 1609.8,786.4 1612.8,786.3 1615.8,786.2 1618.8,786.1 1621.8,785.9 1624.8,785.8 1627.8,785.7 1630.8,785.6 1633.8,785.5 1636.8,785.4 1639.9,785.2 1642.9,785.1 1645.9,785.0 1648.9,784.9 1651.9,784.7 1654.9,784.6 1657.9,784.5 1660.9,784.3 1663.9,784.2 1666.9,784.1 1669.9,783.9 1672.9,783.8 1675.9,783.6 1678.9,783.5 1681.9,783.4 1684.9,783.2 1687.9,783.1 1690.9,782.9 1693.9,782.8 1696.9,782.6 1700.0,782.5 1703.0,782.3 1706.0,782.2 1709.0,782.0 1712.0,781.8 1715.0,781.7 1718.0,781.5 1721.0,781.4 1724.0,781.2 1727.0,781.0 1730.0,780.9 1733.0,780.7"/>
<path stroke="#00ff00" d="M273.0,848.0L275.9,847.6 278.9,847.2 281.8,846.7 284.8,846.3 287.7,845.8 290.7,845.3 293.6,844.7 296.5,844.2 299.5,843.6 302.4,843.1 305.4,842.5 308.3,841.9 311.2,841.2 314.2,840.6 317.1,839.9 320.0,839.2 323.0,838.5 325.9,837.8 328.8,837.0 331.7,836.3 334.6,835.5 337.6,834.7 340.5,833.9 343.4,833.1 346.3,832.2 349.2,831.3 352.0,830.5 354.9,829.5 357.8,828.6 360.7,827.7 363.5,826.7 366.4,825.7 369.2,824.7 372.1,823.7 374.9,822.7 377.8,821.7 380.6,820.6 383.4,819.5 386.2,818.4 389.0,817.3 391.8,816.1 394.6,815.0 397.3,813.8 400.1,812.6 402.9,811.4 405.6,810.2 408.3,809.0 411.1,807.7 413.8,806.4 416.5,805.1 419.2,803.8 421.8,802.5 424.5,801.2 427.2,799.8 429.8,798.4 432.5,797.0 435.1,795.6 437.7,794.2 440.3,792.8 442.9,791.3 445.5,789.8 448.1,788.3 450.7,786.8 453.2,785.3 455.8,783.8 458.3,782.3 460.9,780.7 463.4,779.1 465.9,777.5 468.4,775.9 470.9,774.3 473.4,772.7 475.9,771.1 478.4,769.4 480.9,767.8 483.3,766.1 485.8,764.4 488.3,762.7 490.7,761.0 493.1,759.3 495.6,757.5 498.0,755.8 500.4,754.1 502.8,752.3 505.2,750.5 507.6,748.7 510.0,746.9 512.4,745.1 514.8,743.3 517.1,741.5 519.5,739.7 521.9,737.8 524.2,736.0 526.6,734.1 528.9,732.2 531.3,730.4 533.6,728.5 536.0,726.6 538.3,724.7 540.6,722.8 542.9,720.9 545.3,719.0 547.6,717.0 549.9,715.1 552.2,713.2 554.5,711.2 556.8,709.3 559.1,707.3 561.4,705.3 563.7,703.4 566.0,701.4 568.2,699.4 570.5,697.4 572.8,695.4 575.1,693.4 577.4,691.5 579.7,689.5 581.9,687.5 584.2,685.5 586.5,683.5 588.8,681.6 591.1,679.6 593.4,677.6 595.8,675.7 598.1,673.8 600.4,671.8 602.8,669.9 605.1,668.0 607.5,666.2 609.9,664.3 612.3,662.5 614.7,660.7 617.1,658.9 619.6,657.1 622.0,655.3 624.5,653.6 627.0,651.9 629.5,650.3 632.0,648.6 634.6,647.0 637.2,645.4 639.8,643.9 642.4,642.4 645.0,640.9 647.7,639.5 650.4,638.1 653.1,636.8 655.8,635.5 658.6,634.2 661.3,633.0 664.1,631.9 666.9,630.8 669.7,629.8 672.5,628.8 675.3,627.9 678.2,627.1 681.0,626.3 683.9,625.6 686.8,625.0 689.7,624.5 692.5,624.0 695.4,623.7 698.3,623.4 701.2,623.1 704.1,623.0 707.1,623.0 710.0,623.0 712.9,623.1 715.8,623.2 718.7,623.5 721.6,623.8 724.6,624.2 727.5,624.6 730.4,625.1 733.3,625.6 736.2,626.2 739.1,626.9 742.0,627.6 744.9,628.4 747.8,629.2 750.7,630.0 753.6,630.9 756.5,631.9 759.4,632.8 762.3,633.9 765.1,634.9 768.0,636.0 770.8,637.1 773.7,638.2 776.5,639.4 779.3,640.6 782.1,641.8 784.9,643.0 787.7,644.3 790.4,645.6 793.2,646.8 795.9,648.1 798.7,649.4 801.4,650.7 804.1,652.1 806.8,653.4 809.5,654.7 812.1,656.1 814.8,657.4 817.5,658.8 820.1,660.2 822.8,661.6 825.4,662.9 828.1,664.3 830.7,665.7 833.4,667.1 836.0,668.5 838.6,669.9 841.3,671.3 843.9,672.7 846.5,674.1 849.1,675.5 851.8,676.9 854.4,678.3 857.0,679.7 859.7,681.1 862.3,682.5 864.9,683.8 867.6,685.2 870.2,686.6 872.9,687.9 875.6,689.3 878.2,690.6 880.9,692.0 883.6,693.3 886.3,694.6 889.0,695.9 891.7,697.2 894.4,698.5 897.1,699.8 899.8,701.1 902.6,702.3 905.3,703.6 908.0,704.8 910.8,706.1 913.5,707.3 916.3,708.5 919.0,709.7 921.8,710.9 924.6,712.1 927.3,713.3 930.1,714.5 932.9,715.6 935.7,716.8 938.5,717.9 941.3,719.0 944.1,720.1 946.9,721.2 949.7,722.3 952.5,723.4 955.3,724.5 958.1,725.5 961.0,726.6 963.8,727.6 966.6,728.6 969.5,729.6 972.3,730.6 975.2,731.6 978.0,732.6 980.9,733.5 983.7,734.5 986.6,735.4 989.5,736.3 992.3,737.2 995.2,738.1 998.1,739.0 1001.0,739.9 1003.8,740.8 1006.7,741.6 1009.6,742.4 1012.5,743.3 1015.4,744.1 1018.3,744.9 1021.2,745.7 1024.1,746.5 1027.0,747.2 1029.9,748.0 1032.8,748.8 1035.7,749.5 1038.6,750.2 1041.5,750.9 1044.5,751.7 1047.4,752.4 1050.3,753.1 1053.2,753.7 1056.2,754.4 1059.1,755.1 1062.0,755.7 1065.0,756.4 1067.9,757.0 1070.8,757.6 1073.8,758.3 1076.7,758.9 1079.7,759.5 1082.6,760.1 1085.6,760.6 1088.5,761.2 1091.5,761.8 1094.4,762.4 1097.4,762.9 1100.3,763.5 1103.3,764.0 1106.2,764.5 1109.2,765.0 1112.1,765.6 1115.1,766.1 1118.1,766.6 1121.0,767.1 1124.0,767.6 1126.9,768.0 1129.9,768.5 1132.9,769.0 1135.8,769.5 1138.8,769.9 1141.8,770.4 1144.7,770.8 1147.7,771.2 1150.7,771.7 1153.6,772.1 1156.6,772.5 1159.6,772.9 1162.6,773.3 1165.5,773.7 1168.5,774.1 1171.5,774.5 1174.5,774.9 1177.4,775.3 1180.4,775.6 1183.4,776.0 1186.4,776.3 1189.4,776.7 1192.3,777.0 1195.3,777.4 1198.3,777.7 1201.3,778.0 1204.3,778.4 1207.2,778.7 1210.2,779.0 1213.2,779.3 1216.2,779.6 1219.2,779.9 1222.2,780.2 1225.2,780.5 1228.2,780.7 1231.1,781.0 1234.1,781.3 1237.1,781.5 1240.1,781.8 1243.1,782.0 1246.1,782.3 1249.1,782.5 1252.1,782.8 1255.1,783.0 1258.1,783.2 1261.1,783.4 1264.1,783.7 1267.1,783.9 1270.1,784.1 1273.0,784.3 1276.0,784.5 1279.0,784.7 1282.0,784.8 1285.0,785.0 1288.0,785.2 1291.0,785.4 1294.0,785.5 1297.0,785.7 1300.0,785.9 1303.0,786.0 1306.0,786.2 1309.0,786.3 1312.0,786.4 1315.1,786.6 1318.1,786.7 1321.1,786.8 1324.1,787.0 1327.1,787.1 1330.1,787.2 1333.1,787.3 1336.1,787.4 1339.1,787.5 1342.1,787.6 1345.1,787.7 1348.1,787.8 1351.1,787.9 1354.1,788.0 1357.1,788.1 1360.1,788.1 1363.1,788.2 1366.2,788.3 1369.2,788.3 1372.2,788.4 1375.2,788.5 1378.2,788.5 1381.2,788.6 1384.2,788.6 1387.2,788.6 1390.2,788.7 1393.2,788.7 1396.3,788.8 1399.3,788.8 1402.3,788.8 1405.3,788.8 1408.3,788.9 1411.3,788.9 1414.3,788.9 1417.3,788.9 1420.4,788.9 1423.4,788.9 1426.4,788.9 1429.4,788.9 1432.4,788.9 1435.4,788.9 1438.4,788.9 1441.4,788.9 1444.5,788.9 1447.5,788.8 1450.5,788.8 1453.5,788.8 1456.5,788.8 1459.5,788.7 1462.5,788.7 1465.5,788.7 1468.6,788.6 1471.6,788.6 1474.6,788.6 1477.6,788.5 1480.6,788.5 1483.6,788.4 1486.6,788.4 1489.7,788.3 1492.7,788.3 1495.7,788.2 1498.7,788.1 1501.7,788.1 1504.7,788.0 1507.7,788.0 1510.8,787.9 1513.8,787.8 1516.8,787.8 1519.8,787.7 1522.8,787.6 1525.8,787.5 1528.8,787.5 1531.8,787.4 1534.9,787.3 1537.9,787.2 1540.9,787.1 1543.9,787.0 1546.9,787.0 1549.9,786.9 1552.9,786.8 1555.9,786.7 1558.9,786.6 1562.0,786.5 1565.0,786.4 1568.0,786.3 1571.0,786.2 1574.0,786.1 1577.0,786.0 1580.0,785.9 1583.0,785.8 1586.0,785.7 1589.0,785.6 1592.1,785.5 1595.1,785.4 1598.1,785.3 1601.1,785.2 1604.1,785.1 1607.1,785.0 1610.1,784.9 1613.1,784.7 1616.1,784.6 1619.1,784.5 1622.1,784.4 1625.1,784.3 1628.1,784.2 1631.1,784.1 1634.1,784.0 1637.1,783.8 1640.1,783.7 1643.1,783.6 1646.1,783.5 1649.2,783.4 1652.2,783.3 1655.2,783.2 1658.2,783.0 1661.2,782.9 1664.2,782.8 1667.2,782.7 1670.1,782.6 1673.1,782.5 1676.1,782.3 1679.1,782.2 1682.1,782.1 1685.1,782.0 1688.1,781.9 1691.1,781.8 1694.1,781.7 1697.1,781.5 1700.1,781.4 1703.1,781.3 1706.1,781.2 1709.1,781.1 1712.1,781.0 1715.1,780.9 1718.1,780.8 1721.0,780.6 1724.0,780.5 1727.0,780.4 1730.0,780.3 1733.0,780.2"/>
</g>
<rect x="272.90" y="7.45" width="1459.65" height="901.85" fill="none" stroke="#000" stroke-width="10.40"/>
<g fill="#000"><rect x="267.70" y="898.80" width="10.40" height="6.30"/>
<rect x="267.70" y="11.65" width="10.40" height="6.30"/>
<rect x="348.79" y="898.80" width="10.40" height="6.30"/>
<rect x="348.79" y="11.65" width="10.40" height="6.30"/>
<rect x="429.88" y="891.90" width="10.40" height="13.20"/>
<rect x="429.88" y="11.65" width="10.40" height="13.20"/>
<rect x="510.97" y="898.80" width="10.40" height="6.30"/>
<rect x="510.97" y="11.65" width="10.40" height="6.30"/>
<rect x="592.07" y="898.80" width="10.40" height="6.30"/>
<rect x="592.07" y="11.65" width="10.40" height="6.30"/>
<rect x="673.16" y="898.80" width="10.40" height="6.30"/>
<rect x="673.16" y="11.65" width="10.40" height="6.30"/>
<rect x="754.25" y="891.90" width="10.40" height="13.20"/>
<rect x="754.25" y="11.65" width="10.40" height="13.20"/>
<rect x="835.34" y="898.80" width="10.40" height="6.30"/>
<rect x="835.34" y="11.65" width="10.40" height="6.30"/>
<rect x="916.43" y="898.80" width="10.40" height="6.30"/>
<rect x="916.43" y="11.65" width="10.40" height="6.30"/>
<rect x="997.52" y="898.80" width="10.40" height="6.30"/>
<rect x="997.52" y="11.65" width="10.40" height="6.30"/>
<rect x="1078.62" y="891.90" width="10.40" height="13.20"/>
<rect x="1078.62" y="11.65" width="10.40" height="13.20"/>
<rect x="1159.71" y="898.80" width="10.40" height="6.30"/>
<rect x="1159.71" y="11.65" width="10.40" height="6.30"/>
<rect x="1240.80" y="898.80" width="10.40" height="6.30"/>
<rect x="1240.80" y="11.65" width="10.40" height="6.30"/>
<rect x="1321.89" y="898.80" width="10.40" height="6.30"/>
<rect x="1321.89" y="11.65" width="10.40" height="6.30"/>
<rect x="1402.98" y="891.90" width="10.40" height="13.20"/>
<rect x="1402.98" y="11.65" width="10.40" height="13.20"/>
<rect x="1484.08" y="898.80" width="10.40" height="6.30"/>
<rect x="1484.08" y="11.65" width="10.40" height="6.30"/>
<rect x="1565.17" y="898.80" width="10.40" height="6.30"/>
<rect x="1565.17" y="11.65" width="10.40" height="6.30"/>
<rect x="1646.26" y="898.80" width="10.40" height="6.30"/>
<rect x="1646.26" y="11.65" width="10.40" height="6.30"/>
<rect x="277.10" y="851.05" width="6.30" height="10.40"/>
<rect x="1722.05" y="851.05" width="6.30" height="10.40"/>
<rect x="277.10" y="798.00" width="6.30" height="10.40"/>
<rect x="1722.05" y="798.00" width="6.30" height="10.40"/>
<rect x="277.10" y="744.95" width="6.30" height="10.40"/>
<rect x="1722.05" y="744.95" width="6.30" height="10.40"/>
<rect x="277.10" y="691.90" width="6.30" height="10.40"/>
<rect x="1722.05" y="691.90" width="6.30" height="10.40"/>
<rect x="277.10" y="638.85" width="13.20" height="10.40"/>
<rect x="1715.15" y="638.85" width="13.20" height="10.40"/>
<rect x="277.10" y="585.80" width="6.30" height="10.40"/>
<rect x="1722.05" y="585.80" width="6.30" height="10.40"/>
<rect x="277.10" y="532.75" width="6.30" height="10.40"/>
<rect x="1722.05" y="532.75" width="6.30" height="10.40"/>
<rect x="277.10" y="479.70" width="6.30" height="10.40"/>
<rect x="1722.05" y="479.70" width="6.30" height="10.40"/>
<rect x="277.10" y="426.65" width="6.30" height="10.40"/>
<rect x="1722.05" y="426.65" width="6.30" height="10.40"/>
<rect x="277.10" y="373.60" width="13.20" height="10.40"/>
<rect x="1715.15" y="373.60" width="13.20" height="10.40"/>
<rect x="277.10" y="320.55" width="6.30" height="10.40"/>
<rect x="1722.05" y="320.55" width="6.30" height="10.40"/>
<rect x="277.10" y="267.50" width="6.30" height="10.40"/>
<rect x="1722.05" y="267.50" width="6.30" height="10.40"/>
<rect x="277.10" y="214.45" width="6.30" height="10.40"/>
<rect x="1722.05" y="214.45" width="6.30" height="10.40"/>
<rect x="277.10" y="161.40" width="6.30" height="10.40"/>
<rect x="1722.05" y="161.40" width="6.30" height="10.40"/>
<rect x="277.10" y="108.35" width="13.20" height="10.40"/>
<rect x="1715.15" y="108.35" width="13.20" height="10.40"/>
<rect x="277.10" y="55.30" width="6.30" height="10.40"/>
<rect x="1722.05" y="55.30" width="6.30" height="10.40"/></g>
<g font-size="65.5" fill="#000">
<text transform="translate(261.8,931.80) scale(0.97,1)" text-anchor="end">0</text>
<text transform="translate(261.8,666.55) scale(0.97,1)" text-anchor="end">5</text>
<text transform="translate(261.8,401.30) scale(0.97,1)" text-anchor="end">10</text>
<text transform="translate(261.8,136.05) scale(0.97,1)" text-anchor="end">15</text>
<text transform="translate(435.08,978.6) scale(0.97,1)" text-anchor="middle">2</text>
<text transform="translate(759.45,978.6) scale(0.97,1)" text-anchor="middle">4</text>
<text transform="translate(1083.82,978.6) scale(0.97,1)" text-anchor="middle">6</text>
<text transform="translate(1408.18,978.6) scale(0.97,1)" text-anchor="middle">8</text>
<text transform="translate(1732.55,978.6) scale(0.97,1)" text-anchor="middle">10</text>
</g>
<g fill="#000" font-size="65.5">
<text transform="translate(895.6,1076.3) scale(0.97,1)" font-style="italic">ω</text>
<text transform="translate(943.4,1076.3) scale(0.97,1)" style="font-family:'Liberation Serif',serif">(</text>
<text transform="translate(965,1076.3) scale(0.97,1)">GeV</text>
<text transform="translate(1091.6,1076.3) scale(0.97,1)" style="font-family:'Liberation Serif',serif">)</text>
</g>
<g fill="#000" font-size="65.5" transform="translate(51.2,540) rotate(-90)">
<text transform="translate(13.7,0) scale(0.97,1)" font-style="italic">ρ</text>
<text transform="translate(60.4,0) scale(0.97,1)" style="font-family:'Liberation Serif',serif">(</text>
<text transform="translate(84.6,0) scale(0.97,1)" font-style="italic">ω</text>
<text transform="translate(131.8,0) scale(0.97,1)" style="font-family:'Liberation Serif',serif">)</text>
</g>
<rect x="79.9" y="389.25" width="5.2" height="143.1" fill="#000"/>
<g fill="#000" font-size="65.5" transform="translate(158.8,540) rotate(-90)">
<text transform="translate(58.6,0) scale(0.97,1)" font-style="italic">ω</text>
</g>

</svg>
</body></html>
